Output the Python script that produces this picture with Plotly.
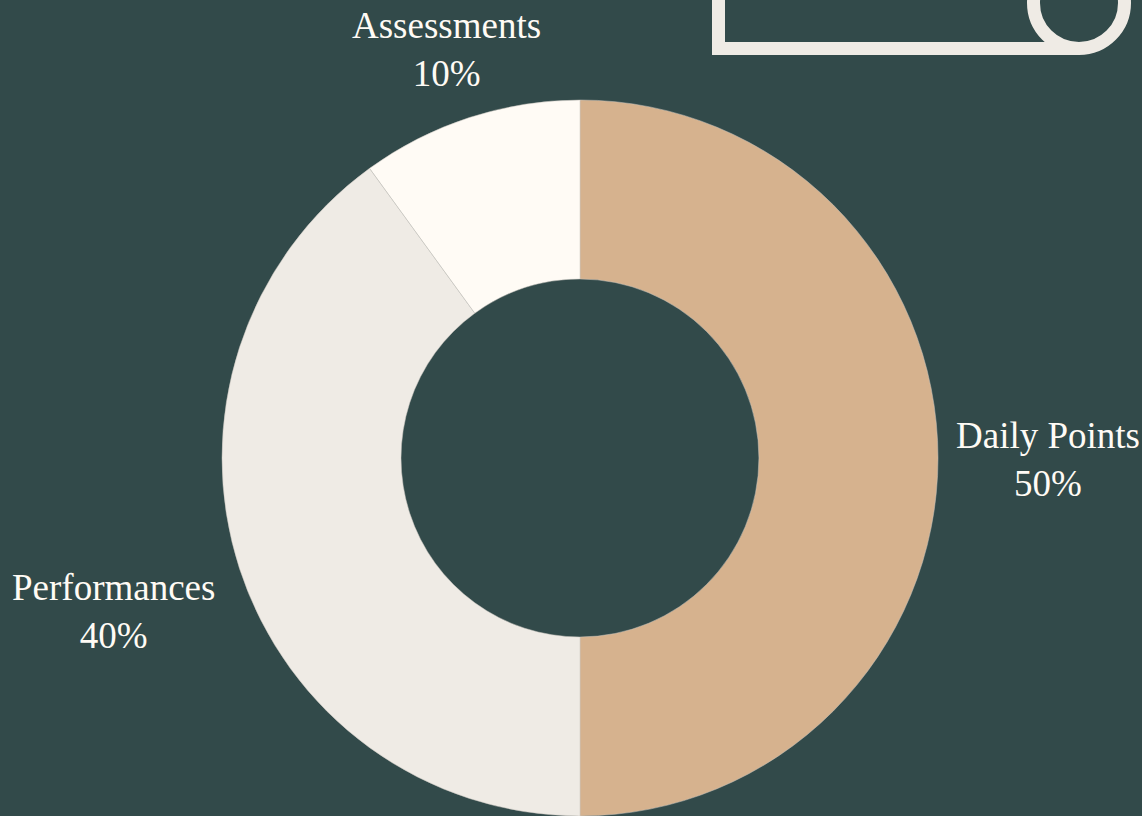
import math
import plotly.graph_objects as go

labels = ["Daily Points", "Performances", "Assessments"]
values = [50, 40, 10]
colors = ["#D6B28E", "#EFEBE5", "#FFFBF5"]

W, H = 1142, 816
BG = "#324A4A"
DECOR = "#EFEBE5"
TEXT = "#FFFBF5"
FONT = "Liberation Serif, serif"

# label distance (px) from the rim to the label centre, along the slice's mid-angle
label_gap = [108, 130, 72]


def px(x):
    return x / W


def py(y):
    return 1 - y / H


# pie geometry (pixels)
cx, cy, r = 580, 458, 358

fig = go.Figure(go.Pie(
    labels=labels,
    values=values,
    marker=dict(colors=colors, line=dict(color="#C8C4BE", width=0.5)),
    hole=0.5,
    sort=False,
    direction="clockwise",
    rotation=0,
    textinfo="none",
    showlegend=False,
    hoverinfo="label+percent",
    domain=dict(x=[px(cx - r), px(cx + r)], y=[0, py(cy - r)]),
))

# outside labels placed radially from each slice's mid-angle
total = sum(values)
annotations = []
cum = 0
lcx, lcy, lr = 580, 460, 360
for lab, val, gap in zip(labels, values, label_gap):
    theta = 2 * math.pi * (cum + val / 2) / total
    cum += val
    dx, dy = math.sin(theta), -math.cos(theta)
    d = lr + gap
    x = lcx + d * dx
    y = lcy + d * dy
    annotations.append(dict(
        x=px(x), y=py(y), xref="paper", yref="paper",
        xanchor="center", yanchor="middle", showarrow=False,
        text=f"{lab}<br>{round(100 * val / total)}%",
        font=dict(family=FONT, size=37, color=TEXT),
        align="center",
    ))

shapes = [
    dict(type="path", xref="paper", yref="paper",
         path=f"M {px(718.5)},{py(-30)} L {px(718.5)},{py(48.5)} L {px(1079)},{py(48.5)}",
         line=dict(color=DECOR, width=13)),
    dict(type="circle", xref="paper", yref="paper",
         x0=px(1079 - 45.5), x1=px(1079 + 45.5), y0=py(3 + 45.5), y1=py(3 - 45.5),
         line=dict(color=DECOR, width=13)),
]

fig.update_layout(
    width=W, height=H,
    margin=dict(l=0, r=0, t=0, b=0),
    paper_bgcolor=BG, plot_bgcolor=BG,
    shapes=shapes,
    annotations=annotations,
)

fig.write_html(
    "out.html",
    config={"displayModeBar": False},
    post_script="document.body.style.margin='0';document.body.style.overflow='hidden';",
)
